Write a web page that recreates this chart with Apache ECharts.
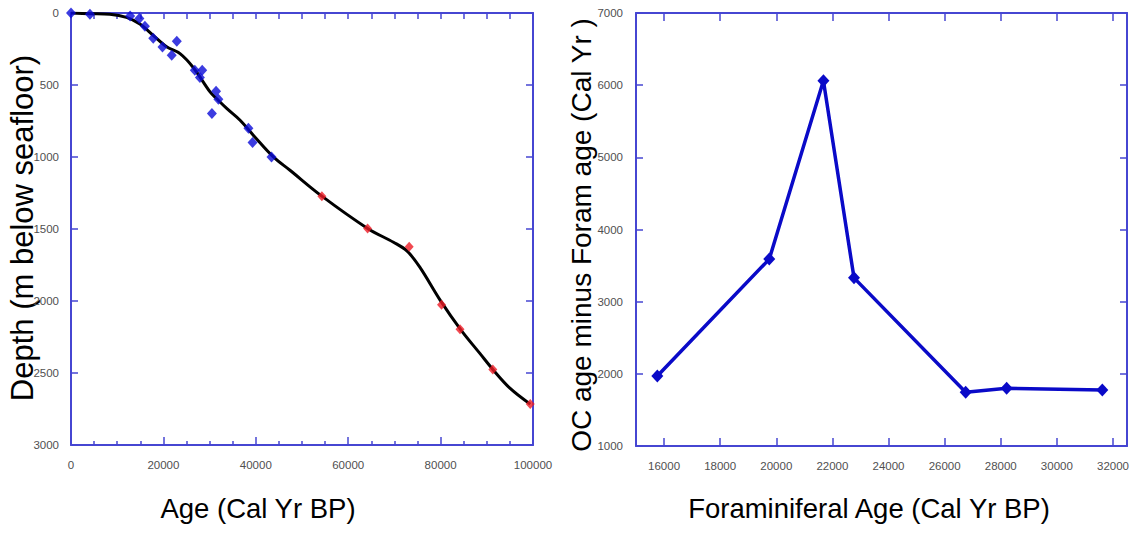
<!DOCTYPE html>
<html>
<head>
<meta charset="utf-8">
<script src="https://cdn.jsdelivr.net/npm/echarts@6/dist/echarts.min.js"></script>
<style>
  html, body { margin: 0; padding: 0; background: #fff; }
  #chart { width: 1140px; height: 533px; }
</style>
</head>
<body>
<div id="chart"></div>
<script>
// Age-depth model: fitted curve (age, depth)
const modelCurve = [
  [0, 0], [4000, 5], [8400, 9], [12000, 30], [14900, 76], [17800, 155],
  [20700, 234], [23600, 282], [26500, 380], [30100, 548], [31500, 594],
  [33700, 663], [36600, 745], [39500, 850], [43800, 999], [47400, 1092],
  [54300, 1272], [64200, 1496], [69800, 1592], [72700, 1652], [75500, 1765],
  [79900, 1994], [84300, 2197], [88500, 2364], [91300, 2475], [95000, 2605],
  [99400, 2716]
];
// Radiocarbon-dated samples (age, depth)
const radiocarbonPoints = [
  [0, 0], [4100, 9], [12800, 21], [14800, 39], [16000, 92], [17800, 175],
  [19800, 236], [22900, 196], [21800, 294], [26800, 398], [28400, 398],
  [27900, 448], [31400, 543], [31900, 599], [30500, 698], [38400, 800],
  [39300, 900], [43400, 1000]
];
// Tie points beyond the radiocarbon range (age, depth)
const tiePoints = [
  [54300, 1272], [64200, 1496], [73200, 1624], [80200, 2026],
  [84200, 2197], [91300, 2475], [99400, 2716]
];
// Organic carbon age offset vs foraminiferal age
const foramAge = [15760, 19750, 21680, 22770, 26750, 28210, 31620];
const ocOffset = [1970, 3590, 6060, 3330, 1745, 1800, 1775];
const foramTicks = [16000, 18000, 20000, 22000, 24000, 26000, 28000, 30000, 32000];

const axisColor = '#4646d2';
const plain = v => String(v);
const labelStyle = { color: '#505050', fontSize: 11.5, fontFamily: 'Liberation Sans, Arial, sans-serif', formatter: plain };
const titleFont = '27.5px "Liberation Sans", Arial, sans-serif';

function tick(length, extra) {
  return Object.assign({ show: true, inside: true, length: length,
    lineStyle: { color: axisColor, width: 1.5 } }, extra || {});
}

function frameAxis(extra) {
  return Object.assign({
    type: 'value',
    axisLine: { show: true, onZero: false, lineStyle: { color: axisColor, width: 2 } },
    axisTick: tick(7),
    splitLine: { show: false },
    axisLabel: { show: false }
  }, extra);
}

const chart = echarts.init(document.getElementById('chart'), null, { renderer: 'svg' });

chart.setOption({
  animation: false,
  backgroundColor: '#fff',
  grid: [
    { left: 71, top: 13, width: 462, height: 432 },
    { left: 636, top: 13, width: 491, height: 433 }
  ],
  xAxis: [
    frameAxis({
      gridIndex: 0, position: 'bottom', min: 0, max: 100000, interval: 20000,
      axisLabel: Object.assign({ show: true, margin: 14, showMaxLabel: true }, labelStyle),
      axisTick: tick(8),
      minorTick: { show: true, splitNumber: 4, length: 4, lineStyle: { color: axisColor, width: 1.5 } }
    }),
    frameAxis({ gridIndex: 0, position: 'top', min: 0, max: 100000, interval: 5000, axisTick: tick(6) }),
    frameAxis({
      gridIndex: 1, position: 'bottom', min: 15000, max: 32500,
      axisLabel: Object.assign({ show: true, margin: 14, customValues: foramTicks }, labelStyle),
      axisTick: tick(8, { customValues: foramTicks })
    }),
    frameAxis({
      gridIndex: 1, position: 'top', min: 15000, max: 32500,
      axisTick: tick(8, { customValues: foramTicks })
    })
  ],
  yAxis: [
    frameAxis({
      gridIndex: 0, position: 'left', inverse: true, min: 0, max: 3000, interval: 500,
      axisLabel: Object.assign({ show: true, margin: 12 }, labelStyle)
    }),
    frameAxis({ gridIndex: 0, position: 'right', inverse: true, min: 0, max: 3000, interval: 500 }),
    frameAxis({
      gridIndex: 1, position: 'left', min: 1000, max: 7000, interval: 1000,
      axisLabel: Object.assign({ show: true, margin: 13 }, labelStyle)
    }),
    frameAxis({ gridIndex: 1, position: 'right', min: 1000, max: 7000, interval: 1000 })
  ],
  series: [
    {
      name: 'Age model', type: 'line', xAxisIndex: 0, yAxisIndex: 0,
      data: modelCurve, smooth: 0.35, showSymbol: false,
      lineStyle: { color: '#000', width: 3 }, z: 2
    },
    {
      name: 'Radiocarbon', type: 'scatter', xAxisIndex: 0, yAxisIndex: 0,
      data: radiocarbonPoints, symbol: 'diamond', symbolSize: [10, 11],
      itemStyle: { color: '#0b0bd8' }, z: 3
    },
    {
      name: 'Tie points', type: 'scatter', xAxisIndex: 0, yAxisIndex: 0,
      data: tiePoints, symbol: 'diamond', symbolSize: [9, 10],
      itemStyle: { color: '#ee1c25' }, z: 3
    },
    {
      name: 'OC offset', type: 'line', xAxisIndex: 2, yAxisIndex: 2,
      data: foramAge.map((a, i) => [a, ocOffset[i]]),
      symbol: 'diamond', symbolSize: [12, 13], showSymbol: true,
      lineStyle: { color: '#0a0ac8', width: 3.5 },
      itemStyle: { color: '#0a0ac8' }
    }
  ],
  graphic: [
    { type: 'text', x: 22, y: 228, rotation: Math.PI / 2,
      style: { text: 'Depth (m below seafloor)', font: '31px "Liberation Sans", Arial, sans-serif', fill: '#000', align: 'center', verticalAlign: 'middle' } },
    { type: 'text', x: 258, y: 508,
      style: { text: 'Age (Cal Yr BP)', font: titleFont, fill: '#000', align: 'center', verticalAlign: 'middle' } },
    { type: 'text', x: 581, y: 235, rotation: Math.PI / 2,
      style: { text: 'OC age minus Foram age (Cal Yr )', font: '28px "Liberation Sans", Arial, sans-serif', fill: '#000', align: 'center', verticalAlign: 'middle' } },
    { type: 'text', x: 869, y: 508,
      style: { text: 'Foraminiferal Age (Cal Yr BP)', font: titleFont, fill: '#000', align: 'center', verticalAlign: 'middle' } }
  ]
});
</script>
</body>
</html>
